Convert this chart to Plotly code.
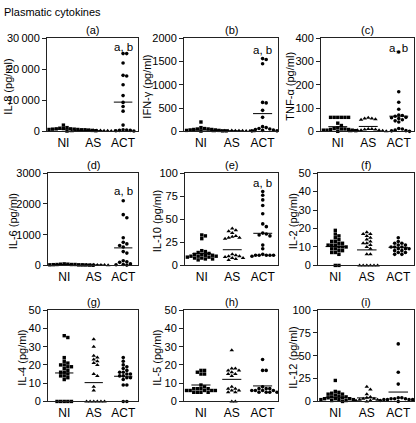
import plotly.graph_objects as go

# ---------------- data ----------------
groups = ["NI", "AS", "ACT"]

il8_NI = [2000, 1200, 1000, 900, 800, 800, 700, 700, 600, 600, 500, 500, 500, 400, 400, 300, 300, 200, 200, 100]
il8_AS = [300, 300, 250, 250, 200, 200, 200, 150, 150, 100, 100, 100, 50]
il8_ACT = [25000, 25000, 22000, 18000, 17800, 15000, 11500, 9300, 8000, 6500, 2000, 500, 400, 300, 300, 200, 100]
il8_means = [720, 200, 9400]

ifn_NI = [200, 80, 60, 50, 50, 40, 40, 30, 30, 20, 20, 20, 10, 10, 10, 5]
ifn_AS = [20, 15, 15, 10, 10, 10, 5, 5, 5, 5, 0, 0]
ifn_ACT = [1560, 1540, 1450, 620, 610, 450, 300, 100, 80, 60, 50, 40, 30, 20, 10, 10]
ifn_means = [30, 10, 380]

tnf_NI = [60, 60, 60, 60, 60, 60, 35, 25, 15, 12, 10, 10, 8, 8, 5, 5, 5, 3, 3, 0]
tnf_AS = [58, 55, 55, 52, 50, 10, 10, 8, 8, 5, 5, 5, 3, 3, 0, 0]
tnf_ACT = [340, 170, 125, 95, 70, 68, 65, 60, 58, 55, 50, 45, 40, 12, 10, 5, 3, 2, 0]
tnf_means = [20, 21, 65]

il6_NI = [50, 40, 40, 30, 30, 30, 25, 20, 20, 20, 15, 15, 10, 10, 10, 5, 5]
il6_AS = [20, 15, 15, 10, 10, 10, 8, 5, 5]
il6_ACT = [2100, 1650, 1550, 900, 750, 700, 650, 600, 450, 400, 150, 120, 100, 50, 30, 20, 10]
il6_means = [30, 15, 570]

il10_NI = [33, 32, 29, 16, 15, 14, 13, 12, 12, 11, 11, 10, 10, 10, 9, 9, 8, 8, 7, 7, 6]
il10_AS = [40, 38, 37, 35, 32, 31, 30, 30, 29, 12, 11, 10, 10, 9, 8, 8, 7, 6]
il10_ACT = [80, 76, 71, 65, 56, 45, 42, 35, 34, 33, 32, 22, 18, 12, 11, 11, 11, 11, 11, 10]
il10_means = [12.8, 17, 34.8]

il2_NI = [19, 17, 16, 15, 14, 13, 13, 12, 12, 11, 11, 11, 10, 10, 10, 9, 9, 8, 8, 7, 7, 6, 0, 0]
il2_AS = [18, 17, 17, 16, 15, 14, 13, 12, 12, 11, 10, 9, 6, 6, 0, 0, 0, 0, 0, 0]
il2_ACT = [15, 13, 12, 12, 11, 11, 10, 10, 10, 9, 9, 9, 8, 8, 7, 7, 6, 6]
il2_means = [10.2, 8.4, 9.8]

il4_NI = [36, 35, 24, 22, 21, 20, 20, 19, 19, 18, 17, 16, 16, 15, 14, 14, 13, 12, 0, 0, 0, 0, 0]
il4_AS = [34, 30, 25, 24, 23, 22, 21, 20, 15, 14, 8, 6, 0, 0, 0, 0, 0, 0]
il4_ACT = [24, 22, 20, 19, 18, 17, 16, 16, 15, 15, 14, 14, 13, 13, 12, 9, 9, 0, 0]
il4_means = [15.6, 10.3, 13.8]

il5_NI = [17, 17, 16, 15, 15, 9, 8, 7, 7, 7, 7, 6, 6, 6, 6, 6, 5, 5, 5, 5]
il5_AS = [28, 18, 18, 17, 17, 16, 15, 15, 14, 8, 7, 7, 6, 6, 5, 5, 0, 0]
il5_ACT = [23, 17, 17, 8, 7, 7, 7, 6, 6, 6, 6, 5, 5, 5, 5]
il5_means = [9, 12.1, 8.5]

il12_NI = [23, 11, 10, 9, 8, 8, 7, 6, 5, 5, 4, 4, 3, 3, 3, 2, 2, 2, 1, 1, 1, 0]
il12_AS = [16, 13, 8, 5, 4, 3, 3, 2, 2, 1, 1, 0]
il12_ACT = [63, 32, 19, 4, 4, 3, 3, 3, 2, 2, 2, 2, 1, 1, 1, 0]
il12_means = [4.6, 3.9, 10.3]

y_titles = ["IL-8 (pg/ml)", "IFN-γ (pg/ml)", "TNF-α (pg/ml)",
            "IL-6 (pg/ml)", "IL-10 (pg/ml)", "IL-2 (pg/ml)",
            "IL-4 (pg/ml)", "IL-5 (pg/ml)", "IL-12 (pg/ml)"]
panel_labels = ["(a)", "(b)", "(c)", "(d)", "(e)", "(f)", "(g)", "(h)", "(i)"]
y_max = [30000, 2000, 400, 3000, 100, 50, 50, 50, 100]
y_step = [10000, 500, 100, 1000, 25, 10, 10, 10, 25]
sig_text = ["a, b", "a, b", "a, b", "a, b", "a, b", None, None, None, None]
sig_y = [27000, 1750, 357, 2420, 89, None, None, None, None]

series = [
    (il8_NI, il8_AS, il8_ACT, il8_means),
    (ifn_NI, ifn_AS, ifn_ACT, ifn_means),
    (tnf_NI, tnf_AS, tnf_ACT, tnf_means),
    (il6_NI, il6_AS, il6_ACT, il6_means),
    (il10_NI, il10_AS, il10_ACT, il10_means),
    (il2_NI, il2_AS, il2_ACT, il2_means),
    (il4_NI, il4_AS, il4_ACT, il4_means),
    (il5_NI, il5_AS, il5_ACT, il5_means),
    (il12_NI, il12_AS, il12_ACT, il12_means),
]

# ---------------- layout geometry (pixels) ----------------
W, H = 416, 423
lefts = [47, 184, 321, 48, 185, 318, 48, 184, 318]
rights = [138, 278, 414, 138, 278, 414, 138, 278, 414]
tops = [33, 172, 313]
bottoms = [129, 267, 407]
title_x = [8, 147, 290, 13, 157, 293, 22, 157, 293]
XR = [-0.55, 2.5]
symbols = ["square", "triangle-up", "circle"]
msizes = [3.4, 4, 3.6]
FONT = "Liberation Sans, Arial, Helvetica, sans-serif"


def swarm(values, ymax, hpx, unit_px, d=3.6):
    placed = []
    xs = []
    order = [0]
    for j in range(1, 40):
        order += [j, -j]
    for v in values:
        ypx = v / ymax * hpx
        for k in order:
            xpx = k * d
            ok = True
            for (px, py) in placed:
                if abs(py - ypx) < d * 0.95 and abs(px - xpx) < d * 0.95:
                    ok = False
                    break
            if ok:
                break
        placed.append((xpx, ypx))
        xs.append(xpx / unit_px)
    return xs


fig = go.Figure()
annotations = []

for i, (s_ni, s_as, s_act, means) in enumerate(series):
    row = i // 3
    n = i + 1
    xa = "x" if n == 1 else f"x{n}"
    ya = "y" if n == 1 else f"y{n}"
    l, r = lefts[i], rights[i]
    t, b = tops[row], bottoms[row]
    unit_px = (r - l) / (XR[1] - XR[0])
    hpx = b - t

    for g, vals in enumerate([s_ni, s_as, s_act]):
        offs = swarm(vals, y_max[i], hpx, unit_px)
        fig.add_trace(go.Scatter(
            x=[g + o for o in offs], y=vals, mode="markers",
            marker=dict(symbol=symbols[g], size=msizes[g], color="black",
                        line=dict(width=0)),
            xaxis=xa, yaxis=ya, showlegend=False, cliponaxis=False,
            hoverinfo="y"))
        fig.add_trace(go.Scatter(
            x=[g - 0.31, g + 0.31], y=[means[g], means[g]], mode="lines",
            line=dict(color="black", width=1),
            xaxis=xa, yaxis=ya, showlegend=False, hoverinfo="skip"))

    tickvals = list(range(0, y_max[i] + 1, y_step[i]))
    ticktext = [f"{v // 1000}\u2009000" if v >= 10000 else str(v) for v in tickvals]

    fig.layout[f"xaxis{'' if n == 1 else n}"] = dict(
        domain=[l / W, r / W], range=XR, anchor=ya,
        tickvals=[0, 1, 2], ticktext=groups, ticks="",
        showline=True, mirror=True, linecolor="#222", linewidth=1,
        showgrid=False, zeroline=False, fixedrange=True,
        tickfont=dict(size=12, color="black", family=FONT))
    fig.layout[f"yaxis{'' if n == 1 else n}"] = dict(
        domain=[1 - b / H, 1 - t / H], range=[0, y_max[i]], anchor=xa,
        tickvals=tickvals, ticktext=ticktext, ticks="outside", ticklen=4,
        tickcolor="#222",
        showline=True, mirror=True, linecolor="#222", linewidth=1,
        showgrid=False, zeroline=False, fixedrange=True,
        tickfont=dict(size=11, color="black", family=FONT))

    annotations.append(dict(
        text=panel_labels[i], x=(l + r) / 2 / W, y=1 - (t - 8) / H,
        xref="paper", yref="paper", xanchor="center", yanchor="middle",
        showarrow=False, font=dict(size=11, color="black", family=FONT)))
    annotations.append(dict(
        text=y_titles[i], x=title_x[i] / W, y=1 - ((t + b) / 2 + 2) / H,
        xref="paper", yref="paper", xanchor="center", yanchor="middle",
        textangle=-90, showarrow=False,
        font=dict(size=11, color="black", family=FONT)))
    if sig_text[i]:
        annotations.append(dict(
            text=sig_text[i], x=2, y=sig_y[i], xref=xa, yref=ya,
            xanchor="center", yanchor="middle", showarrow=False,
            font=dict(size=11.5, color="black", family=FONT)))

annotations.append(dict(
    text="Plasmatic cytokines", x=2 / W, y=1 - 6 / H, xref="paper", yref="paper",
    xanchor="left", yanchor="middle", showarrow=False,
    font=dict(size=11, color="black", family=FONT)))

fig.update_layout(
    width=W, height=H, margin=dict(l=0, r=0, t=0, b=0),
    paper_bgcolor="white", plot_bgcolor="white",
    annotations=annotations, showlegend=False,
    font=dict(family=FONT, color="black"))

fig.write_html(
    "out.html", config={"displayModeBar": False},
    post_script="document.body.style.margin='0';document.body.style.overflow='hidden';")
